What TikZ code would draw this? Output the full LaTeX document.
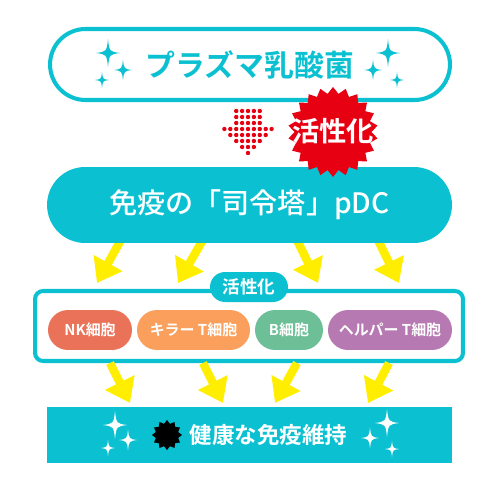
\documentclass[tikz,border=0pt]{standalone}
\usepackage{fontspec}
\setmainfont{Noto Sans CJK JP}[BoldFont=* Bold]
\newfontfamily\mediumjp{Noto Sans CJK JP Medium}
\usetikzlibrary{arrows.meta,shapes.geometric}
\definecolor{tealbox}{HTML}{0BC1D1}
\definecolor{arrowyellow}{HTML}{FFEE00}
\definecolor{burstred}{HTML}{E60012}
\definecolor{nkred}{HTML}{EA7259}
\definecolor{killerorange}{HTML}{FBA05C}
\definecolor{bgreen}{HTML}{6CBF96}
\definecolor{helperpurple}{HTML}{B679B1}
\tikzset{
  sparkle/.pic={\fill (0,1.15) .. controls (0.12,0.12) .. (1,0) .. controls (0.12,-0.12) .. (0,-1.15) .. controls (-0.12,-0.12) .. (-1,0) .. controls (-0.12,0.12) .. cycle;},
  cellpill/.style={rounded corners=0.4cm, minimum height=0.8cm, inner sep=0pt, text=white, font=\bfseries\fontsize{8.5}{10}\selectfont},
  yarrow/.style={arrowyellow, line width=4.8pt, -{Triangle[width=18pt,length=13pt]}},
}
\begin{document}
\begin{tikzpicture}[x=0.02cm, y=-0.02cm]
    \useasboundingbox (0,0) rectangle (500,500);

    % top box
    \node [draw=tealbox, line width=2.3pt, rounded corners=0.71cm, minimum width=8cm, minimum height=1.42cm, inner sep=0pt, text=tealbox, font=\bfseries\fontsize{17}{20}\selectfont] (lactic) at (250,64.5) {プラズマ乳酸菌};
    \pic [tealbox, scale=12] at (108,53) {sparkle};
    \pic [tealbox, scale=9] at (123,70) {sparkle};
    \pic [tealbox, scale=7] at (102,80) {sparkle};
    \pic [tealbox, scale=12] at (388,53) {sparkle};
    \pic [tealbox, scale=9] at (373,70) {sparkle};
    \pic [tealbox, scale=7] at (397,80) {sparkle};

    % dotted arrow
    \foreach \row/\n in {0/5,1/5,2/5,3/9,4/7,5/5,6/3,7/1}
        \foreach \col in {1,...,\n}
            \fill[burstred] ({248+(\col-(\n+1)/2)*5.9},{111+6*\row}) circle [radius=1.25pt];

    % arrows pDC -> cells
    \coordinate (u1s) at (122,238);
    \coordinate (u1e) at (97,283);
    \coordinate (u2s) at (204,238);
    \coordinate (u2e) at (178,283);
    \coordinate (u3s) at (296,238);
    \coordinate (u3e) at (318,283);
    \coordinate (u4s) at (377,238);
    \coordinate (u4e) at (399,283);
    \path[yarrow]
                (u1s) edge (u1e)
                (u2s) edge (u2e)
                (u3s) edge (u3e)
                (u4s) edge (u4e);

    % pDC box
    \node [fill=tealbox, rounded corners=0.76cm, minimum width=8.1cm, minimum height=1.52cm, inner sep=0pt, text=white, font=\mediumjp\fontsize{16}{19}\selectfont] (pdc) at (249.5,205) {免疫の「司令塔」pDC};

    % burst
    \node [star, star points=22, star point ratio=1.17, fill=burstred, minimum size=1.8cm, inner sep=0pt] (burst) at (333,132) {};
    \node [text=white, font=\bfseries\fontsize{15.5}{18}\selectfont] (burstlabel) at (333,131) {活性化};

    % cells box
    \node [draw=tealbox, line width=2.3pt, rounded corners=0.16cm, minimum width=8.56cm, minimum height=1.4cm, inner sep=0pt] (cells) at (249,326) {};
    \node [fill=tealbox, rounded corners=0.3cm, minimum width=1.56cm, minimum height=0.6cm, inner sep=0pt, text=white, font=\bfseries\fontsize{10}{12}\selectfont] (activate) at (249,287) {活性化};
    \node [cellpill, fill=nkred, minimum width=1.68cm] (nk) at (90,330) {NK細胞};
    \node [cellpill, fill=killerorange, minimum width=2.26cm] (killer) at (193.5,330) {キラー T細胞};
    \node [cellpill, fill=bgreen, minimum width=1.36cm] (bcell) at (289,330) {B細胞};
    \node [cellpill, fill=helperpurple, minimum width=2.48cm] (helper) at (390,330) {ヘルパー T細胞};

    % arrows cells -> health
    \coordinate (d1s) at (110,363);
    \coordinate (d1e) at (130,403);
    \coordinate (d2s) at (203,363);
    \coordinate (d2e) at (223,403);
    \coordinate (d3s) at (297,363);
    \coordinate (d3e) at (275,403);
    \coordinate (d4s) at (389,363);
    \coordinate (d4e) at (368,403);
    \path[yarrow]
                (d1s) edge (d1e)
                (d2s) edge (d2e)
                (d3s) edge (d3e)
                (d4s) edge (d4e);

    % bottom box
    \node [fill=tealbox, minimum width=8.1cm, minimum height=1.12cm, inner sep=0pt] (health) at (249.5,435) {};
    \node [text=white, font=\bfseries\fontsize{12.8}{15}\selectfont] (healthlabel) at (268.5,435) {健康な免疫維持};
    \node [star, star points=12, star point ratio=1.3, fill=black, minimum size=0.6cm, inner sep=0pt] (blackburst) at (167,435) {};
    \pic [white, scale=12] at (115,425) {sparkle};
    \pic [white, scale=9] at (128,440) {sparkle};
    \pic [white, scale=7] at (108,448) {sparkle};
    \pic [white, scale=12] at (387,423) {sparkle};
    \pic [white, scale=9] at (370,438) {sparkle};
    \pic [white, scale=7] at (392,449) {sparkle};
\end{tikzpicture}
\end{document}
